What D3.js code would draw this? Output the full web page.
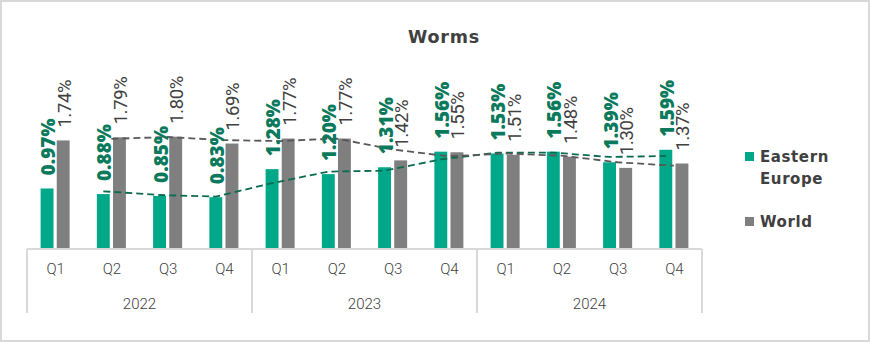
<!DOCTYPE html>
<html>
<head>
<meta charset="utf-8">
<script src="https://cdn.jsdelivr.net/npm/d3@7"></script>
<style>
	body { margin: 0; background: #fff; }
	svg { display: block; }
</style>
</head>
<body>
<div class="graphic"></div>
<script>
	var years = ['2022', '2023', '2024'];
	var quarters = ['Q1', 'Q2', 'Q3', 'Q4'];
	var seriesNames = ['Eastern Europe', 'World'];
	var easternEurope = [0.97, 0.88, 0.85, 0.83, 1.28, 1.20, 1.31, 1.56, 1.53, 1.56, 1.39, 1.59];
	var world = [1.74, 1.79, 1.80, 1.69, 1.77, 1.77, 1.42, 1.55, 1.51, 1.48, 1.30, 1.37];

	var width = 870, height = 342;
	var colors = { bar: ['#00a88a', '#7f7f7f'], label: ['#0b7a5c', '#404040'], trend: ['#0b6b50', '#595959'] };

	var svg = d3.select('.graphic').append('svg').attr('width', width).attr('height', height);

	svg.append('rect')
		.attr('x', 1).attr('y', 1)
		.attr('width', width - 2).attr('height', height - 2)
		.attr('fill', '#fff')
		.attr('stroke', '#d9d9d9')
		.attr('stroke-width', 2);

	svg.append('text')
		.attr('x', 444).attr('y', 43)
		.attr('text-anchor', 'middle')
		.attr('font-family', 'DejaVu Sans')
		.attr('font-weight', 'bold')
		.attr('font-size', 17.5)
		.attr('letter-spacing', 0.8)
		.attr('fill', '#404040')
		.text('Worms');

	// one key per quarter of each year
	var keys = [];
	years.forEach(function (y) {
		quarters.forEach(function (q) { keys.push(y + '-' + q); });
	});

	var x0 = d3.scaleBand().domain(keys).range([27, 702]).paddingInner(0.484).paddingOuter(0.242);
	var x1 = d3.scaleBand().domain(seriesNames).range([0, x0.bandwidth()]).paddingInner(0.2);
	var xCat = d3.scalePoint().domain(keys).range([27, 702]).padding(0.5);
	var y = d3.scaleLinear().domain([0, 2]).range([249, 124.2]);

	var series = [easternEurope, world];

	var rows = [];
	series.forEach(function (values, s) {
		values.forEach(function (v, i) {
			rows.push({ key: keys[i], series: seriesNames[s], s: s, value: v });
		});
	});

	svg.append('g').selectAll('rect')
		.data(rows)
		.enter().append('rect')
		.attr('x', function (d) { return x0(d.key) + x1(d.series); })
		.attr('y', function (d) { return y(d.value); })
		.attr('width', x1.bandwidth())
		.attr('height', function (d) { return y(0) - y(d.value); })
		.attr('fill', function (d) { return colors.bar[d.s]; });

	// 2-period moving average trendlines
	var trendX = [
		function (i) { return x0(keys[i]) + x1(seriesNames[0]) + x1.bandwidth() / 2; },
		function (i) { return xCat(keys[i]); }
	];
	series.forEach(function (values, s) {
		var pts = [];
		for (var i = 1; i < values.length; i++) {
			pts.push([trendX[s](i), y((values[i] + values[i - 1]) / 2)]);
		}
		svg.append('path')
			.attr('d', d3.line()(pts))
			.attr('fill', 'none')
			.attr('stroke', colors.trend[s])
			.attr('stroke-width', 1.8)
			.attr('stroke-dasharray', '7,4');
	});

	// rotated value labels
	svg.append('g').selectAll('text')
		.data(rows)
		.enter().append('text')
		.attr('transform', function (d) {
			var cx = x0(d.key) + x1(d.series) + x1.bandwidth() / 2 + (d.s === 0 ? 8 : 7.5);
			return 'translate(' + cx + ',' + (y(d.value) - 13) + ') rotate(-90)';
		})
		.attr('font-family', function (d) { return d.s === 0 ? 'Open Sans' : 'Roboto'; })
		.attr('font-weight', function (d) { return d.s === 0 ? 800 : 'normal'; })
		.attr('font-size', function (d) { return d.s === 0 ? 19 : 18.5; })
		.attr('letter-spacing', function (d) { return d.s === 0 ? 0 : -0.4; })
		.attr('fill', function (d) { return colors.label[d.s]; })
		.text(function (d) { return d.value.toFixed(2) + '%'; });

	// category axis: quarters, then years
	var axisG = svg.append('g').attr('transform', 'translate(0,249)')
		.call(d3.axisBottom(xCat).tickSize(0).tickPadding(14).tickFormat(function (k) { return k.split('-')[1]; }));
	axisG.select('.domain').remove();
	axisG.selectAll('text')
		.attr('font-family', 'Roboto')
		.attr('font-weight', 300)
		.attr('font-size', 15)
		.attr('fill', '#404040');

	svg.append('line')
		.attr('x1', 27).attr('x2', 702)
		.attr('y1', 249).attr('y2', 249)
		.attr('stroke', '#d9d9d9').attr('stroke-width', 2);

	var bounds = years.map(function (yr, i) { return x0.step() * 4 * i + 27; });
	bounds.push(702);
	svg.append('g').selectAll('line')
		.data(bounds)
		.enter().append('line')
		.attr('x1', function (d) { return d; }).attr('x2', function (d) { return d; })
		.attr('y1', 249).attr('y2', 313)
		.attr('stroke', '#d9d9d9').attr('stroke-width', 2);

	svg.append('g').selectAll('text')
		.data(years)
		.enter().append('text')
		.attr('x', function (d, i) { return (bounds[i] + bounds[i + 1]) / 2; })
		.attr('y', 309)
		.attr('text-anchor', 'middle')
		.attr('font-family', 'Roboto')
		.attr('font-weight', 300)
		.attr('font-size', 15)
		.attr('fill', '#404040')
		.text(function (d) { return d; });

	// legend
	var legendY = [152, 217];
	var legend = svg.append('g').selectAll('g')
		.data(seriesNames)
		.enter().append('g');
	legend.append('rect')
		.attr('x', 745).attr('y', function (d, i) { return legendY[i]; })
		.attr('width', 9).attr('height', 9)
		.attr('fill', function (d, i) { return colors.bar[i]; });
	legend.append('text')
		.attr('x', 760).attr('y', function (d, i) { return legendY[i] + 9.5; })
		.attr('font-family', 'DejaVu Sans')
		.attr('font-weight', 'bold')
		.attr('font-size', 15)
		.attr('letter-spacing', 0.6)
		.attr('fill', '#404040')
		.each(function (d) {
			var t = d3.select(this);
			d.split(' ').forEach(function (w, j) {
				t.append('tspan').attr('x', 760).attr('dy', j === 0 ? 0 : 22).text(w);
			});
		});
</script>
</body>
</html>
